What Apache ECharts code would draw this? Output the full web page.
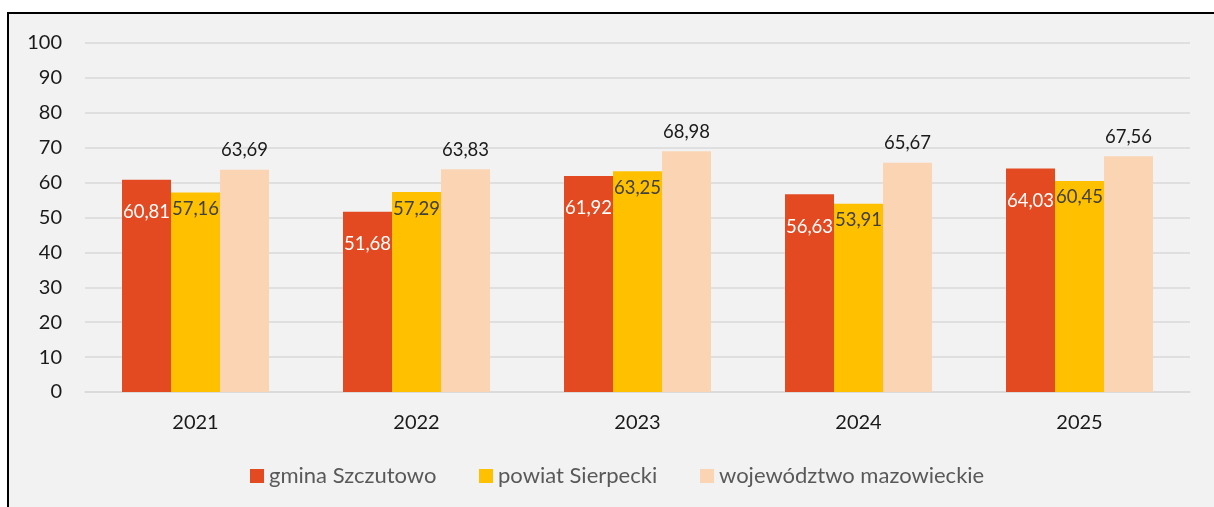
<!DOCTYPE html>
<html>
<head>
<meta charset="utf-8">
<script src="https://cdn.jsdelivr.net/npm/echarts@6/dist/echarts.min.js"></script>
<style>
  html, body { margin: 0; padding: 0; background: #ffffff; width: 1214px; height: 507px; overflow: hidden; }
  #frame { position: absolute; left: 7px; top: 12px; width: 1214px; height: 507px; border-top: 2px solid #000; border-left: 2px solid #000; background: #F2F2F2; }
  #chart { position: absolute; left: 0; top: 0; width: 1214px; height: 507px; }
</style>
</head>
<body>
<div id="frame"></div>
<div id="chart"></div>
<script>
const categories = ['2021', '2022', '2023', '2024', '2025'];
const seriesNames = ['gmina Szczutowo', 'powiat Sierpecki', 'województwo mazowieckie'];
const gminaValues = [60.81, 51.68, 61.92, 56.63, 64.03];
const powiatValues = [57.16, 57.29, 63.25, 53.91, 60.45];
const wojValues = [63.69, 63.83, 68.98, 65.67, 67.56];
const yTicks = { min: 0, max: 100, interval: 10 };

const FONT = 'Lato, "Open Sans", sans-serif';
const fmt = p => p.value.toFixed(2).replace('.', ',');
const legendLefts = [250, 479, 700];

const legendFor = (name, i) => ({
  data: [name],
  left: legendLefts[i],
  top: 465,
  itemWidth: 14,
  itemHeight: 14,
  icon: 'rect',
  padding: 0,
  textStyle: { fontFamily: FONT, fontSize: 22, color: '#595959' }
});

const chart = echarts.init(document.getElementById('chart'), null, { renderer: 'canvas' });
chart.setOption({
  backgroundColor: 'transparent',
  animation: false,
  textStyle: { fontFamily: FONT },
  grid: { left: 85, right: 24, top: 43, bottom: 115, containLabel: false },
  legend: seriesNames.map(legendFor),
  xAxis: {
    type: 'category',
    data: categories,
    axisLine: { show: true, lineStyle: { color: '#D9D9D9', width: 1.5 } },
    axisTick: { show: false },
    axisLabel: { fontFamily: FONT, fontSize: 20, color: '#1a1a1a', margin: 21 }
  },
  yAxis: {
    type: 'value',
    min: yTicks.min,
    max: yTicks.max,
    interval: yTicks.interval,
    axisLine: { show: false },
    axisTick: { show: false },
    splitLine: { lineStyle: { color: '#D9D9D9', width: 1.5 } },
    axisLabel: { fontFamily: FONT, fontSize: 20, color: '#1a1a1a', margin: 23 }
  },
  series: [
    {
      name: seriesNames[0], type: 'bar', data: gminaValues,
      barWidth: 49, barGap: '0%',
      itemStyle: { color: '#E34A22' },
      label: { show: true, position: 'insideTop', distance: 23, formatter: fmt,
               fontFamily: FONT, fontSize: 18.5, color: '#ffffff' }
    },
    {
      name: seriesNames[1], type: 'bar', data: powiatValues,
      barWidth: 49, barGap: '0%',
      itemStyle: { color: '#FFC000' },
      label: { show: true, position: 'insideTop', distance: 7, formatter: fmt,
               fontFamily: FONT, fontSize: 18.5, color: '#404040' }
    },
    {
      name: seriesNames[2], type: 'bar', data: wojValues,
      barWidth: 49, barGap: '0%',
      itemStyle: { color: '#FBD4B4' },
      label: { show: true, position: 'top', distance: 10, formatter: fmt,
               fontFamily: FONT, fontSize: 18.5, color: '#1a1a1a' }
    }
  ]
});
</script>
</body>
</html>
